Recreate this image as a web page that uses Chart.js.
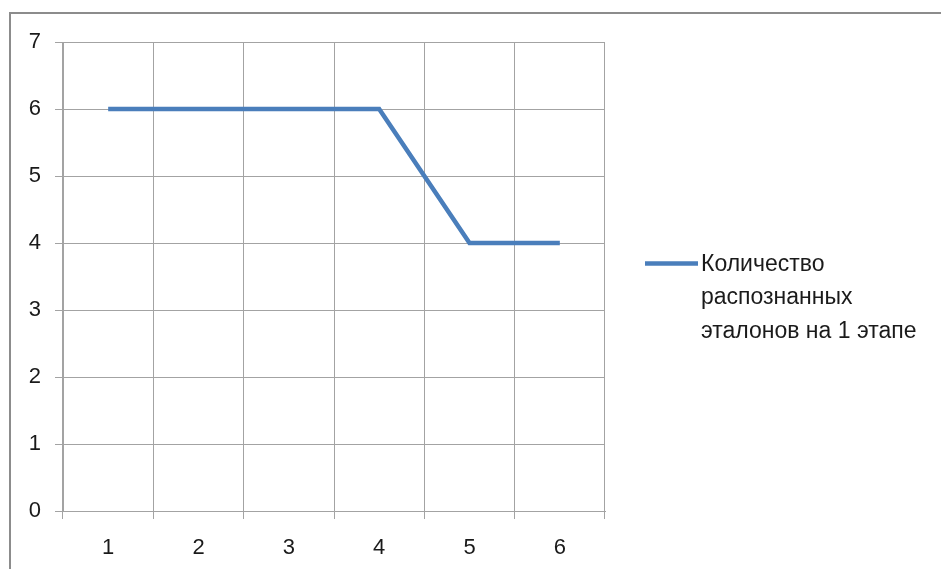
<!DOCTYPE html>
<html>
<head>
<meta charset="utf-8">
<script src="https://cdn.jsdelivr.net/npm/chart.js@4/dist/chart.umd.min.js"></script>
<style>
  html, body { margin: 0; padding: 0; background: #fff; }
  #wrap { width: 941px; height: 569px; position: relative; }
</style>
</head>
<body>
<div id="wrap"><canvas id="c" width="941" height="569"></canvas></div>
<script>
const stages = ['1', '2', '3', '4', '5', '6'];
const recognized = [6, 6, 6, 6, 4, 4];
const seriesLabel = 'Количество распознанных эталонов на 1 этапе';
const yTicks = [0, 1, 2, 3, 4, 5, 6, 7];

const FONT = '"Liberation Sans", Arial, sans-serif';
const GRID = '#a3a3a3';
const LINE = '#4a7ebb';

// outer frame of the chart object
const framePlugin = {
  id: 'frame',
  beforeDraw(chart) {
    const ctx = chart.ctx;
    ctx.save();
    ctx.strokeStyle = '#8c8c8c';
    ctx.lineWidth = 2;
    ctx.strokeRect(10, 13, 1000, 1000);
    ctx.restore();
  }
};

// legend on the right with word-wrapped label
const sideLegend = {
  id: 'sideLegend',
  afterDraw(chart) {
    const ctx = chart.ctx;
    const ds = chart.data.datasets[0];
    ctx.save();
    ctx.font = '23px ' + FONT;
    ctx.fillStyle = '#1a1a1a';
    ctx.textBaseline = 'middle';
    const maxW = 228;
    const words = ds.label.split(' ');
    const lines = [];
    let cur = '';
    for (const w of words) {
      const t = cur ? cur + ' ' + w : w;
      if (ctx.measureText(t).width > maxW && cur) { lines.push(cur); cur = w; }
      else cur = t;
    }
    if (cur) lines.push(cur);
    const x0 = 645, y0 = 263.5, lh = 33.5;
    ctx.strokeStyle = ds.borderColor;
    ctx.lineWidth = ds.borderWidth;
    ctx.beginPath();
    ctx.moveTo(x0, y0);
    ctx.lineTo(x0 + 53, y0);
    ctx.stroke();
    lines.forEach((l, i) => ctx.fillText(l, x0 + 56, y0 + 1 + i * lh));
    ctx.restore();
  }
};

new Chart(document.getElementById('c'), {
  type: 'line',
  data: {
    labels: stages,
    datasets: [{
      label: seriesLabel,
      data: recognized,
      borderColor: LINE,
      backgroundColor: LINE,
      borderWidth: 4.5,
      pointRadius: 0,
      tension: 0,
      fill: false
    }]
  },
  options: {
    responsive: false,
    animation: false,
    layout: { padding: { top: 42, right: 336, left: 0, bottom: 0 } },
    plugins: { legend: { display: false }, tooltip: { enabled: false } },
    scales: {
      x: {
        type: 'category',
        offset: true,
        grid: { offset: true, color: GRID, lineWidth: 1, tickLength: 8, drawTicks: true },
        border: { color: GRID, width: 1 },
        ticks: { color: '#1a1a1a', font: { family: FONT, size: 22 }, padding: 16, maxRotation: 0 },
        afterFit(s) { s.height = 58; }
      },
      y: {
        min: 0, max: 7,
        afterBuildTicks(s) { s.ticks = yTicks.map(v => ({ value: v })); },
        grid: { color: GRID, lineWidth: 1, tickLength: 8 },
        border: { color: GRID, width: 1 },
        ticks: { color: '#1a1a1a', font: { family: FONT, size: 22 }, padding: 14 },
        afterFit(s) { s.width = 63; }
      }
    }
  },
  plugins: [framePlugin, sideLegend]
});
</script>
</body>
</html>
